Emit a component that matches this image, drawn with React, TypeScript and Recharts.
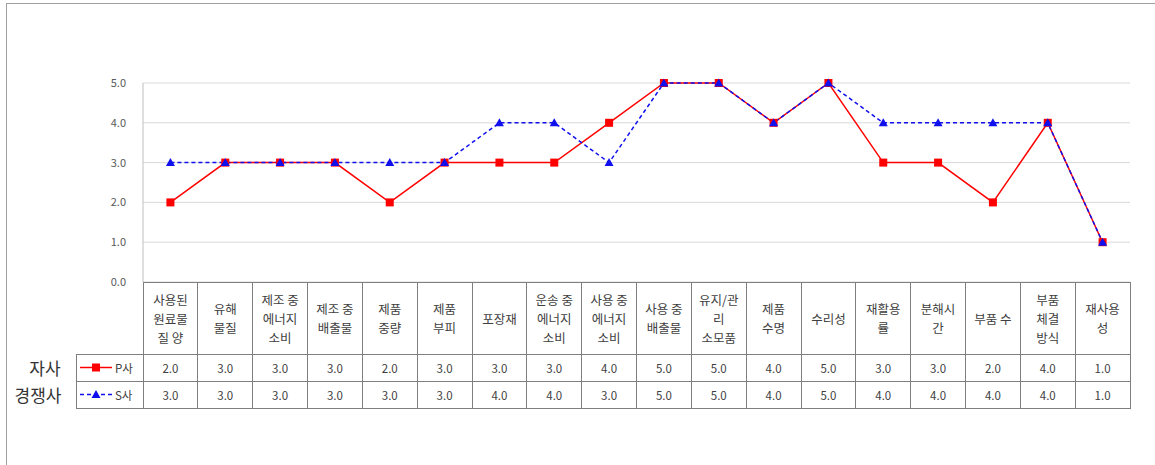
import React from 'react'
import { CartesianGrid, Line, LineChart, XAxis, YAxis } from 'recharts'

// 평가 항목 (줄바꿈은 표 머리칸 줄 나눔)
const CATEGORIES = [
    '사용된\n원료물\n질 양',
    '유해\n물질',
    '제조 중\n에너지\n소비',
    '제조 중\n배출물',
    '제품\n중량',
    '제품\n부피',
    '포장재',
    '운송 중\n에너지\n소비',
    '사용 중\n에너지\n소비',
    '사용 중\n배출물',
    '유지/관\n리\n소모품',
    '제품\n수명',
    '수리성',
    '재활용\n률',
    '분해시\n간',
    '부품 수',
    '부품\n체결\n방식',
    '재사용\n성',
]

const P_VALUES = [2, 3, 3, 3, 2, 3, 3, 3, 4, 5, 5, 4, 5, 3, 3, 2, 4, 1]
const S_VALUES = [3, 3, 3, 3, 3, 3, 4, 4, 3, 5, 5, 4, 5, 4, 4, 4, 4, 1]

const Y_TICKS = [0, 1, 2, 3, 4, 5]

const data = CATEGORIES.map((name, i) => ({ name, p: P_VALUES[i], s: S_VALUES[i] }))

const FONT = '"Noto Sans CJK KR", "Noto Sans", sans-serif'
const RED = '#ff0000'
const BLUE = '#1010ee'
const BORDER = '#7f7f7f'
const TEXT = '#404040'

const PLOT_LEFT = 143
const PLOT_RIGHT = 1130
const HEADER_H = 72
const ROW_H = 27
const LINE_H = 19

const SquareDot = (props: any) => {
    const { cx, cy } = props
    if (cx == null || cy == null) return null
    return <rect x={cx - 4} y={cy - 4} width={8} height={8} fill={RED} />
}

const TriangleDot = (props: any) => {
    const { cx, cy } = props
    if (cx == null || cy == null) return null
    return <path d={`M${cx},${cy - 4.5}L${cx + 4.5},${cy + 3.5}L${cx - 4.5},${cy + 3.5}Z`} fill={BLUE} />
}

const TableTick = (props: any) => {
    const { x, y, payload } = props
    const i = payload.index ?? props.index
    const w = payload.offset ? payload.offset * 2 : (PLOT_RIGHT - PLOT_LEFT) / CATEGORIES.length
    const left = x - w / 2
    const lines = String(payload.value).split('\n')
    const firstY = y + HEADER_H / 2 - ((lines.length - 1) * LINE_H) / 2
    return (
        <g>
            <rect
                x={left}
                y={y}
                width={w}
                height={HEADER_H + ROW_H * 2}
                fill="none"
                stroke={BORDER}
                shapeRendering="crispEdges"
            />
            <line x1={left} x2={left + w} y1={y + HEADER_H} y2={y + HEADER_H} stroke={BORDER} shapeRendering="crispEdges" />
            <line
                x1={left}
                x2={left + w}
                y1={y + HEADER_H + ROW_H}
                y2={y + HEADER_H + ROW_H}
                stroke={BORDER}
                shapeRendering="crispEdges"
            />
            {lines.map((ln, k) => (
                <text
                    key={k}
                    x={x}
                    y={firstY + k * LINE_H}
                    textAnchor="middle"
                    dominantBaseline="central"
                    fontSize={12.5}
                    fill={TEXT}
                    fontFamily={FONT}
                >
                    {ln}
                </text>
            ))}
            <text
                x={x}
                y={y + HEADER_H + ROW_H / 2}
                textAnchor="middle"
                dominantBaseline="central"
                fontSize={11.5}
                fill={TEXT}
                fontFamily={FONT}
            >
                {P_VALUES[i].toFixed(1)}
            </text>
            <text
                x={x}
                y={y + HEADER_H + ROW_H * 1.5}
                textAnchor="middle"
                dominantBaseline="central"
                fontSize={11.5}
                fill={TEXT}
                fontFamily={FONT}
            >
                {S_VALUES[i].toFixed(1)}
            </text>
        </g>
    )
}

// 표 왼쪽의 범례 칸과 자사/경쟁사 표시
function SideLegend() {
    const top = 282 + HEADER_H
    return (
        <svg
            width={143}
            height={120}
            style={{ position: 'absolute', left: 0, top: top - 10, overflow: 'visible' }}
        >
            <g transform="translate(0,10)" fontFamily={FONT}>
                <rect x={76} y={0} width={67} height={ROW_H * 2} fill="none" stroke={BORDER} shapeRendering="crispEdges" />
                <line x1={76} x2={143} y1={ROW_H} y2={ROW_H} stroke={BORDER} shapeRendering="crispEdges" />
                <line x1={80} x2={112} y1={ROW_H / 2} y2={ROW_H / 2} stroke={RED} strokeWidth={1.5} />
                <rect x={92} y={ROW_H / 2 - 4} width={8} height={8} fill={RED} />
                <text x={115} y={ROW_H / 2} dominantBaseline="central" fontSize={11.5} fill={TEXT}>
                    P사
                </text>
                <line
                    x1={80}
                    x2={112}
                    y1={ROW_H * 1.5}
                    y2={ROW_H * 1.5}
                    stroke={BLUE}
                    strokeWidth={1.5}
                    strokeDasharray="4 3"
                />
                <path
                    d={`M96,${ROW_H * 1.5 - 4.5}L100.5,${ROW_H * 1.5 + 3.5}L91.5,${ROW_H * 1.5 + 3.5}Z`}
                    fill={BLUE}
                />
                <text x={115} y={ROW_H * 1.5} dominantBaseline="central" fontSize={11.5} fill={TEXT}>
                    S사
                </text>
                <text x={45} y={ROW_H / 2} textAnchor="middle" dominantBaseline="central" fontSize={17} fill="#333">
                    자사
                </text>
                <text x={38} y={ROW_H * 1.5} textAnchor="middle" dominantBaseline="central" fontSize={17} fill="#333">
                    경쟁사
                </text>
            </g>
        </svg>
    )
}

export default function App() {
    return (
        <div
            style={{
                position: 'absolute',
                left: 0,
                top: 0,
                width: 1155,
                height: 465,
                background: '#fff',
                overflow: 'hidden',
                fontFamily: FONT,
            }}
        >
            <div
                style={{
                    position: 'absolute',
                    left: 6,
                    top: 3,
                    width: 1149,
                    height: 462,
                    borderLeft: '1px solid #a0a0a0',
                    borderTop: '1px solid #a0a0a0',
                }}
            />
            <LineChart
                width={1155}
                height={465}
                data={data}
                margin={{ top: 83, right: 1155 - PLOT_RIGHT, left: 0, bottom: 57 }}
                style={{ position: 'absolute', left: 0, top: 0 }}
            >
                <CartesianGrid stroke="#d9d9d9" vertical={false} />
                <XAxis
                    dataKey="name"
                    scale="band"
                    interval={0}
                    height={HEADER_H + ROW_H * 2}
                    tickLine={false}
                    axisLine={false}
                    tickSize={0}
                    tickMargin={0}
                    tick={<TableTick />}
                />
                <YAxis
                    domain={[0, 5]}
                    ticks={Y_TICKS}
                    width={PLOT_LEFT}
                    tickLine={false}
                    tickMargin={11}
                    axisLine={{ stroke: '#bfbfbf' }}
                    tick={{ fontSize: 11, fill: '#595959', fontFamily: FONT }}
                    tickFormatter={(v: number) => v.toFixed(1)}
                />
                <Line
                    dataKey="p"
                    stroke={RED}
                    strokeWidth={1.5}
                    dot={<SquareDot />}
                    activeDot={false}
                    isAnimationActive={false}
                />
                <Line
                    dataKey="s"
                    stroke={BLUE}
                    strokeWidth={1.5}
                    strokeDasharray="4 3"
                    dot={<TriangleDot />}
                    activeDot={false}
                    isAnimationActive={false}
                />
            </LineChart>
            <SideLegend />
        </div>
    )
}
